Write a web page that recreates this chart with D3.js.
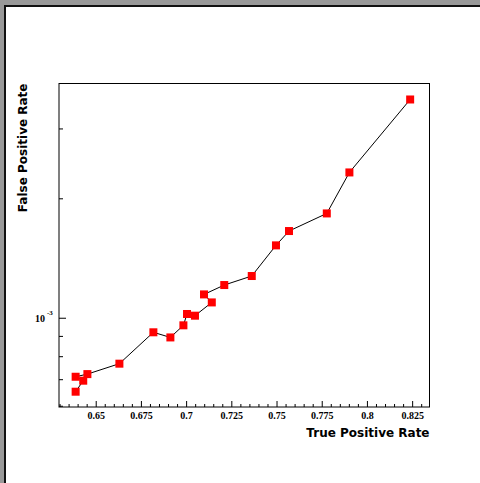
<!DOCTYPE html>
<html>
<head>
<meta charset="utf-8">
<script src="https://cdn.jsdelivr.net/npm/d3@7"></script>
<style>
  html, body { margin: 0; padding: 0; background: #999999; overflow: hidden; }
  svg { display: block; }
</style>
</head>
<body>
<svg width="480" height="483"></svg>
<script>
// points in drawing order (TGraph order)
let tpr = [0.8239, 0.7903, 0.7778, 0.7569, 0.7497, 0.7363, 0.7211, 0.7099, 0.7142,
           0.7049, 0.7005, 0.6985, 0.6913, 0.6819, 0.6631, 0.6454, 0.6389, 0.6431, 0.6389];
let fpr = [3.549e-3, 2.324e-3, 1.832e-3, 1.654e-3, 1.522e-3, 1.274e-3, 1.209e-3, 1.145e-3, 1.093e-3,
           1.012e-3, 1.022e-3, 0.957e-3, 0.892e-3, 0.919e-3, 0.766e-3, 0.721e-3, 0.710e-3, 0.694e-3, 0.651e-3];

let xTicks = [0.65, 0.675, 0.7, 0.725, 0.75, 0.775, 0.8, 0.825];
let xMinor = [0.63, 0.635, 0.64, 0.645, 0.655, 0.66, 0.665, 0.67, 0.68, 0.685, 0.69, 0.695,
              0.705, 0.71, 0.715, 0.72, 0.73, 0.735, 0.74, 0.745, 0.755, 0.76, 0.765, 0.77,
              0.78, 0.785, 0.79, 0.795, 0.805, 0.81, 0.815, 0.82, 0.83];
let yTicks = [1e-3];
let yMinor = [6e-4, 7e-4, 8e-4, 9e-4, 2e-3, 3e-3];

let svg = d3.select("svg");

// canvas: grey window, white pad with dark bevel on top/left
svg.append("rect").attr("width", 480).attr("height", 483).attr("fill", "#999999");
svg.append("rect").attr("x", 4).attr("y", 5).attr("width", 476).attr("height", 478).attr("fill", "#ffffff");
svg.append("path").attr("d", "M5,483 V6 H480").attr("fill", "none")
  .attr("stroke", "#111").attr("stroke-width", 2);

let fLeft = 59, fRight = 429.5, fTop = 83.5, fBottom = 407;

let x = d3.scaleLinear().domain([0.6297, 0.8346]).range([fLeft, fRight]);
let y = d3.scaleLog().domain([0.5957e-3, 3.894e-3]).range([fBottom, fTop]);

// frame
svg.append("rect")
  .attr("x", fLeft).attr("y", fTop)
  .attr("width", fRight - fLeft).attr("height", fBottom - fTop)
  .attr("fill", "none").attr("stroke", "#000").attr("stroke-width", 1);

// x axis
let xAxis = svg.append("g").attr("transform", `translate(0,${fBottom})`);
xAxis.call(d3.axisBottom(x).tickValues(xTicks).tickSize(-6).tickPadding(5)
  .tickFormat(d => d3.format("")(d)));
xAxis.select(".domain").remove();
xAxis.selectAll("text")
  .attr("font-family", "'Liberation Serif', serif").attr("font-weight", "bold")
  .attr("font-size", 10).attr("fill", "#000");
xAxis.selectAll("line").attr("stroke", "#000");

let xMin = svg.append("g").attr("transform", `translate(0,${fBottom})`);
xMin.call(d3.axisBottom(x).tickValues(xMinor).tickSize(-3).tickFormat(""));
xMin.select(".domain").remove();
xMin.selectAll("line").attr("stroke", "#000");

// y axis
let yAxis = svg.append("g").attr("transform", `translate(${fLeft},0)`);
yAxis.call(d3.axisLeft(y).tickValues(yTicks).tickSize(-7).tickFormat(""));
yAxis.select(".domain").remove();
yAxis.selectAll("line").attr("stroke", "#000");

let yMin = svg.append("g").attr("transform", `translate(${fLeft},0)`);
yMin.call(d3.axisLeft(y).tickValues(yMinor).tickSize(-4).tickFormat(""));
yMin.select(".domain").remove();
yMin.selectAll("line").attr("stroke", "#000");

// 10^-3 label
yTicks.forEach(v => {
  svg.append("text")
    .attr("x", 45).attr("y", y(v) + 4)
    .attr("text-anchor", "end")
    .attr("font-family", "'Liberation Serif', serif").attr("font-weight", "bold")
    .attr("font-size", 10).attr("fill", "#000")
    .text("10");
  svg.append("text")
    .attr("x", 47).attr("y", y(v) - 3)
    .attr("font-family", "'Liberation Serif', serif").attr("font-weight", "bold")
    .attr("font-size", 7).attr("fill", "#000")
    .text("-3");
});

// axis titles
svg.append("text")
  .attr("x", fRight).attr("y", 437)
  .attr("text-anchor", "end")
  .attr("font-family", "'DejaVu Sans', sans-serif").attr("font-weight", "bold")
  .attr("font-size", 12).attr("fill", "#000")
  .text("True Positive Rate");

svg.append("text")
  .attr("transform", `translate(27,${fTop}) rotate(-90)`)
  .attr("text-anchor", "end")
  .attr("font-family", "'DejaVu Sans', sans-serif").attr("font-weight", "bold")
  .attr("font-size", 12).attr("fill", "#000")
  .text("False Positive Rate");

// graph line
let line = d3.line().x((d, i) => x(tpr[i])).y((d, i) => y(fpr[i]));
svg.append("path")
  .datum(tpr)
  .attr("d", line)
  .attr("fill", "none").attr("stroke", "#000").attr("stroke-width", 1);

// markers
svg.selectAll("rect.mk")
  .data(tpr)
  .enter()
  .append("rect")
    .attr("class", "mk")
    .attr("x", (d, i) => x(tpr[i]) - 4)
    .attr("y", (d, i) => y(fpr[i]) - 4)
    .attr("width", 8).attr("height", 8)
    .attr("fill", "#ff0000");
</script>
</body>
</html>
